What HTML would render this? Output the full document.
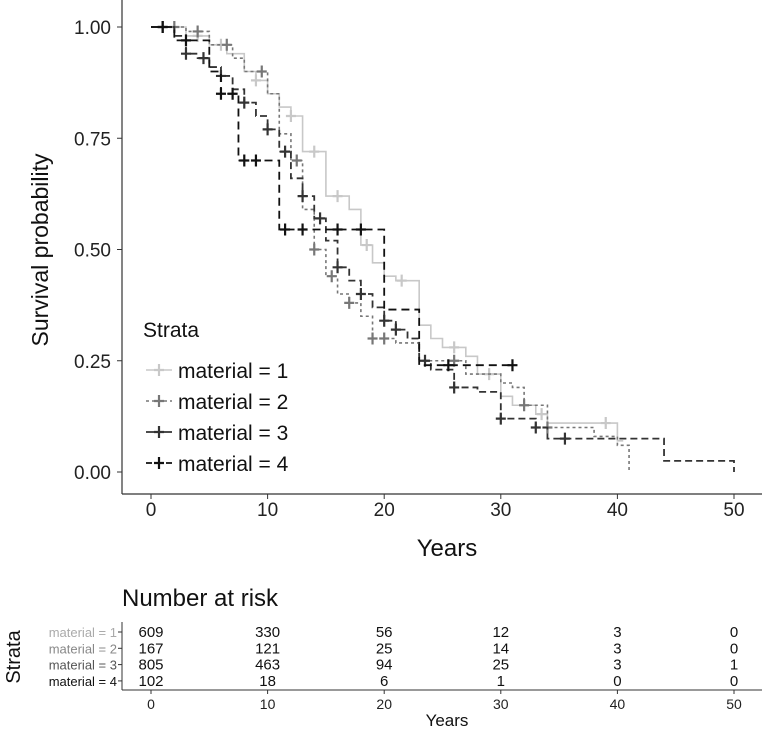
<!DOCTYPE html>
<html><head><meta charset="utf-8"><style>
body{margin:0;background:#fff;}
svg{font-family:"Liberation Sans",sans-serif;}
</style></head><body>
<svg id="c" width="765" height="730"></svg>
<script>
const times1=[0,3,5,6.5,8,9,10,11,12,13,15,17,18,19,20,21,23,24,25,27,28,30,31,33,34,40];
const surv1=[1,0.98,0.96,0.94,0.90,0.88,0.85,0.82,0.80,0.72,0.62,0.59,0.51,0.47,0.44,0.43,0.33,0.30,0.28,0.26,0.22,0.17,0.15,0.13,0.11,0.07];
const end1=40.5;
const cens1=[4,6,9,12,14,16,18.5,21.5,26,29,33.5,39];
const times2=[0,3,5,7,8,10,11,12,13,14,15,16,17,18,19,21,23,27,30,31,32,34,38,40,41];
const surv2=[1,0.99,0.96,0.93,0.90,0.85,0.76,0.70,0.59,0.50,0.44,0.40,0.38,0.35,0.30,0.29,0.25,0.22,0.20,0.19,0.15,0.10,0.08,0.06,0];
const end2=41;
const cens2=[2,4,6.5,9.5,12.5,14,15.5,17,19,20,26,32,34];
const times3=[0,2,3,4,5,6,7,8,9,10,11,12,13,14,15,16,17,18,19,20,21,22,23,24,26,28,30,33,34,44,50];
const surv3=[1,0.98,0.94,0.93,0.91,0.89,0.86,0.83,0.80,0.77,0.72,0.66,0.62,0.57,0.52,0.46,0.43,0.40,0.37,0.34,0.32,0.30,0.25,0.23,0.19,0.18,0.12,0.10,0.075,0.025,0];
const end3=50;
const cens3=[1,3,4.5,6,8,10,11.5,13,14.5,16,18,20,21,23.5,26,30,33,35.5];
const times4=[0,2,5,6,7.5,11,20,23];
const surv4=[1,0.97,0.90,0.85,0.70,0.545,0.365,0.24];
const end4=31;
const cens4=[1,3,6,7,8,9,11.5,13,16,18,25.5,31];
const xTicks=[0,10,20,30,40,50];
const yTicks=[0,0.25,0.5,0.75,1];
const riskLabels=["material = 1","material = 2","material = 3","material = 4"];
const risk1=[609,330,56,12,3,0];
const risk2=[167,121,25,14,3,0];
const risk3=[805,463,94,25,3,1];
const risk4=[102,18,6,1,0,0];

const NS="http://www.w3.org/2000/svg";
const svg=document.getElementById('c');
const X=t=>151+11.66*t;
const Y=s=>472-445*s;
function el(tag,a,txt,parent){const e=document.createElementNS(NS,tag);for(const k in a)e.setAttribute(k,a[k]);if(txt!==undefined)e.textContent=txt;(parent||svg).appendChild(e);return e;}

let e=el('line',{x1:122,y1:0,x2:122,y2:494,stroke:'#333','stroke-width':1.2});

e=el('line',{x1:122,y1:494,x2:762,y2:494,stroke:'#333','stroke-width':1.2});

yTicks.forEach(v=>{
 el('line',{x1:117,x2:122,y1:Y(v),y2:Y(v),stroke:'#333'});
 const t=el('text',{x:111,y:Y(v)+7,'text-anchor':'end','font-size':19,fill:'#222'},v.toFixed(2));
 
});
xTicks.forEach(v=>{
 el('line',{x1:X(v),x2:X(v),y1:494,y2:499,stroke:'#333'});
 const t=el('text',{x:X(v),y:516,'text-anchor':'middle','font-size':19,fill:'#222'},v);
 
});
e=el('text',{x:447,y:556,'text-anchor':'middle','font-size':24,fill:'#111'},'Years');

e=el('text',{x:0,y:0,transform:'translate(48,250) rotate(-90)','text-anchor':'middle','font-size':23,fill:'#111'},'Survival probability');


const styles=[{c:'#c8c8c8',d:'',w:1.6},{c:'#777',d:'3,3',w:1.6},{c:'#333',d:'7,4',w:1.8},{c:'#111',d:'8,5',w:1.8}];
const series=[[times1,surv1,end1,cens1],[times2,surv2,end2,cens2],[times3,surv3,end3,cens3],[times4,surv4,end4,cens4]];
function survAt(ts,ss,t){let s=ss[0];for(let i=0;i<ts.length;i++){if(ts[i]<=t)s=ss[i];}return s;}
series.forEach((sr,k)=>{
 const [ts,ss,end,cs]=sr;const st=styles[k];
 let d='M'+X(ts[0])+','+Y(ss[0]);
 for(let i=1;i<ts.length;i++){d+=' H'+X(ts[i])+' V'+Y(ss[i]);}
 d+=' H'+X(end);
 const p=el('path',{d:d,fill:'none',stroke:st.c,'stroke-width':st.w,'stroke-dasharray':st.d});
 
 
 cs.forEach(t=>{
  const y=Y(survAt(ts,ss,t)),x=X(t);
  const m=el('path',{d:`M${x-5},${y}H${x+5}M${x},${y-6}V${y+6}`,stroke:st.c,'stroke-width':2.2});
  
  
 });
});

e=el('text',{x:143,y:337,'font-size':21,fill:'#111'},'Strata');

riskLabels.forEach((lab,k)=>{
 const y=370+31*k;const st=styles[k];
 const g=el('g',{});
 
 
 el('line',{x1:146,x2:172,y1:y,y2:y,stroke:st.c,'stroke-width':st.w,'stroke-dasharray':k==3?'6,4':(k==2?'':st.d)},undefined,g);
 el('path',{d:`M154,${y}H164M159,${y-6}V${y+6}`,stroke:st.c,'stroke-width':2.2},undefined,g);
 el('text',{x:178,y:y+8,'font-size':21,fill:'#111'},lab,g);
});

e=el('text',{x:122,y:606,'font-size':24,fill:'#111'},'Number at risk');

el('line',{x1:122,y1:622,x2:122,y2:690,stroke:'#333'});
el('line',{x1:122,y1:690,x2:762,y2:690,stroke:'#333'});
e=el('text',{x:0,y:0,transform:'translate(20,657) rotate(-90)','text-anchor':'middle','font-size':20,fill:'#111'},'Strata');

const risks=[risk1,risk2,risk3,risk4];const labCols=['#aaa','#888','#555','#111'];
risks.forEach((r,k)=>{
 const y=632+16.3*k;
 const l=el('text',{x:117,y:y+5,'text-anchor':'end','font-size':13,fill:labCols[k]},riskLabels[k]);
 
 el('line',{x1:118,x2:122,y1:y,y2:y,stroke:'#333'});
 r.forEach((v,i)=>{
  const t=el('text',{x:X(xTicks[i]),y:y+5,'text-anchor':'middle','font-size':15,fill:'#111'},v);
  
 });
});
xTicks.forEach(v=>{
 el('line',{x1:X(v),x2:X(v),y1:690,y2:694,stroke:'#333'});
 const t=el('text',{x:X(v),y:709,'text-anchor':'middle','font-size':14,fill:'#222'},v);
 
});
e=el('text',{x:447,y:726,'text-anchor':'middle','font-size':17,fill:'#111'},'Years');

</script>
</body></html>
